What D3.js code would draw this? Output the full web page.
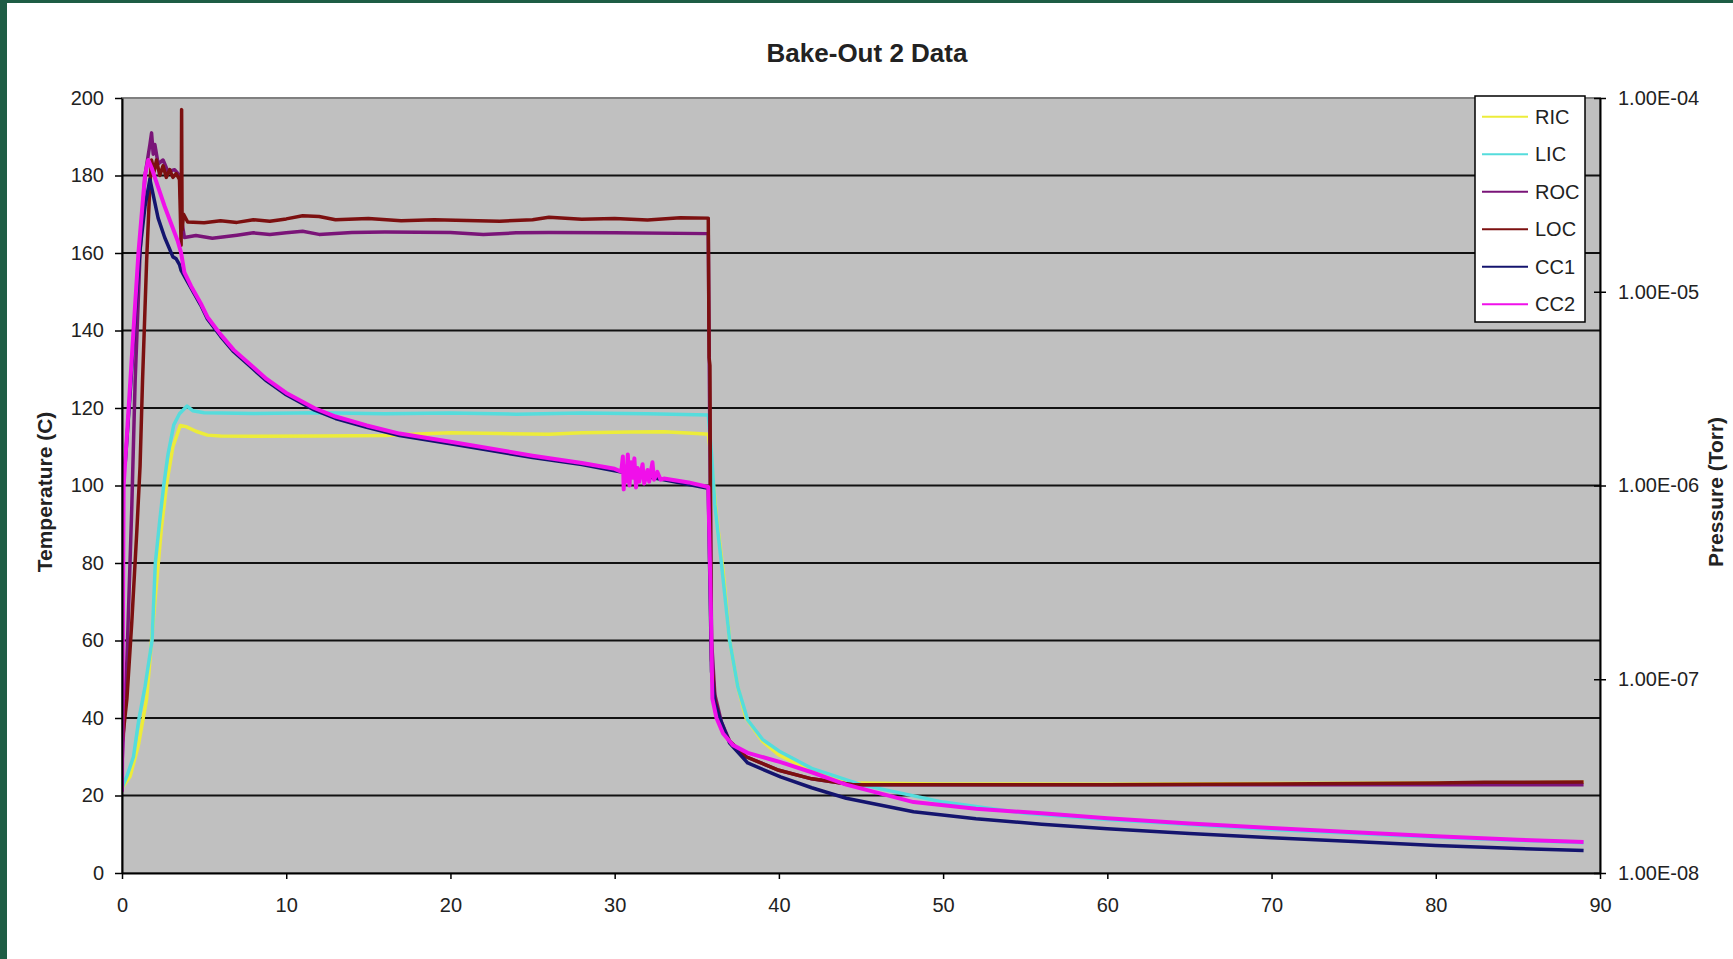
<!DOCTYPE html>
<html>
<head>
<meta charset="utf-8">
<script src="https://cdn.jsdelivr.net/npm/d3@7"></script>
<style>
  body { margin: 0; background: #fff; }
  svg text { font-family: "Liberation Sans", Arial, sans-serif; fill: #222; }
</style>
</head>
<body>
<div id="chart"></div>
<script>
const seriesNames = ["RIC", "LIC", "ROC", "LOC", "CC1", "CC2"];
const seriesColors = ["#ecec3a", "#55dcdc", "#7a1478", "#7c1010", "#14146e", "#f010ea"];
const xTicks = [0, 10, 20, 30, 40, 50, 60, 70, 80, 90];
const yTicks = [0, 20, 40, 60, 80, 100, 120, 140, 160, 180, 200];
const pressureTicks = [1e-4, 1e-5, 1e-6, 1e-7, 1e-8];
const pressureLabels = ["1.00E-04", "1.00E-05", "1.00E-06", "1.00E-07", "1.00E-08"];

// [time, temperature]
const ric = [[0,22],[0.5,25],[1.0,33],[1.5,45],[2.0,70],[2.4,89],[2.74,101],[3.1,110],[3.55,115.5],[3.9,115.2],[4.5,114],[5.2,113],[6,112.8],[8,112.7],[12,112.8],[16,112.9],[18,113.3],[20,113.6],[23,113.4],[26,113.2],[28,113.6],[31,113.8],[33,113.9],[35,113.4],[35.7,113.2],[35.85,108],[36.2,92],[36.6,78],[37,60],[37.5,48],[38,40],[39,34],[40,30.5],[42,26.3],[44.5,23.2],[50,23],[60,22.9],[70,23.1],[80,23.2],[89,23.4]];
const lic = [[0,22],[0.3,25],[0.7,30],[1.02,39.5],[1.4,48],[1.83,60],[2.03,80],[2.3,91],[2.54,100],[2.8,108],[3.15,115.6],[3.5,118.5],[3.96,120.5],[4.3,119.3],[5,118.8],[8,118.6],[12,118.8],[16,118.5],[20,118.7],[24,118.4],[28,118.7],[32,118.5],[35.7,118.2],[35.9,108],[36.1,95],[36.5,80],[37,60],[37.5,48],[38.1,39.5],[39,34.5],[40,31.5],[42,27],[45,22.8],[50,18.3],[55,15.4],[60,13.8],[70,11.2],[80,9.2],[89,7.8]];
const roc = [[0,28],[0.3,55],[0.6,95],[0.8,127],[1.1,160],[1.4,180],[1.7,188],[1.8,191],[1.9,185.5],[2.0,188],[2.2,183],[2.5,184],[2.8,181],[3.2,181.5],[3.5,180],[3.65,168],[3.8,164],[4.5,164.5],[5.5,163.8],[7,164.6],[8,165.2],[9,164.8],[10,165.2],[11,165.6],[12,164.8],[14,165.3],[16,165.4],[20,165.3],[22,164.8],[24,165.2],[26,165.3],[30,165.2],[35.7,165],[35.8,110],[35.9,60],[36.1,46],[36.5,39],[37,34],[38,30],[40,26.5],[42,24.3],[44.5,22.8],[89,22.8]];
const loc = [[0,33],[0.3,45],[0.6,65],[0.9,88],[1.1,105],[1.25,127],[1.5,158],[1.7,178],[1.8,184],[1.95,181],[2.1,184],[2.3,180],[2.5,182.5],[2.7,179.5],[2.9,181.5],[3.1,179.5],[3.3,180.5],[3.5,179],[3.6,162],[3.63,197],[3.66,166],[3.75,170],[4,168],[5,167.8],[6,168.3],[7,167.9],[8,168.6],[9,168.2],[10,168.8],[11,169.6],[12,169.4],[13,168.6],[15,168.9],[17,168.3],[19,168.6],[21,168.4],[23,168.2],[25,168.6],[26,169.2],[28,168.7],[30,168.9],[32,168.5],[34,169.1],[35.7,169],[35.75,133],[35.8,131],[35.85,80],[35.9,55],[36.1,45],[36.5,38],[37,34],[38,30],[40,26.5],[42,24.3],[44.5,22.8],[50,22.8],[60,22.8],[66,22.9],[70,23],[80,23.2],[83,23.4],[89,23.5]];
const cc1 = [[0,104],[0.2,106],[0.5,124],[0.8,144],[1.1,161],[1.4,172],[1.7,179],[1.9,175],[2.2,169],[2.6,164],[3.1,159],[3.3,158.5],[3.5,157],[3.6,155.5],[4,152.5],[4.8,146.5],[5.2,143],[6,138.5],[6.8,134.5],[8,130],[8.8,127],[10,123.4],[11.7,119.5],[13,117.3],[14.9,115],[16.9,112.9],[20,110.8],[25,107.2],[28,105.4],[30,103.8],[33,101.5],[35.7,99.3],[35.8,75],[35.9,52],[36.1,44],[36.4,40],[37,33.5],[38.1,28.4],[40.1,24.8],[42,22],[44.1,19.3],[48.2,15.8],[52,14],[56,12.6],[60,11.4],[65,10.2],[70,9.1],[75,8.1],[80,7.1],[85,6.3],[89,5.8]];
const cc2 = [[0,21],[0.05,60],[0.1,100],[0.3,113],[0.7,140],[1.0,160],[1.4,180],[1.6,184],[1.8,182],[2.2,177],[2.6,172],[3.0,167.5],[3.4,163],[3.6,160],[3.8,155],[4.2,151.5],[4.8,147],[5.2,143.5],[6,139],[6.8,135],[8,130.5],[8.8,127.5],[10,123.9],[11.7,120],[13,117.8],[14.9,115.5],[16.9,113.4],[20,111.3],[25,107.7],[28,105.8],[30,104.3],[30.4,103.6],[30.5,107.5],[30.55,99],[30.6,105],[30.7,101],[30.8,108],[30.9,100],[31.0,106],[31.1,102],[31.2,107],[31.3,99.5],[31.4,104.5],[31.5,101],[31.7,105.5],[31.8,100.5],[32.0,104],[32.1,101],[32.3,106],[32.4,101.5],[32.6,103.5],[32.8,101.5],[33,101.8],[34.5,100.8],[35.7,99.6],[35.85,70],[35.95,45],[36.2,40],[36.6,36],[37.2,33],[38.1,31],[40.1,28.6],[42,26],[44.1,22.8],[48.2,18.3],[52,16.6],[56,15.4],[60,14.1],[65,12.8],[70,11.6],[75,10.5],[80,9.5],[85,8.6],[89,8]];

const seriesData = [ric, lic, roc, loc, cc1, cc2];

function bakeOutChart() {
  const margin = { top: 98, right: 133, bottom: 86, left: 122 };
  const totalWidth = 1733, totalHeight = 959;
  const width = totalWidth - margin.left - margin.right;
  const height = totalHeight - margin.top - margin.bottom;

  const root = d3.select("#chart")
    .append("svg")
    .attr("width", totalWidth)
    .attr("height", totalHeight);

  root.append("rect").attr("width", totalWidth).attr("height", totalHeight).attr("fill", "#fff");
  // dark frame edges of the screenshot
  root.append("rect").attr("x", 0).attr("y", 0).attr("width", 7).attr("height", totalHeight).attr("fill", "#1e5d45");
  root.append("rect").attr("x", 0).attr("y", 0).attr("width", totalWidth).attr("height", 3).attr("fill", "#1e5d45");

  root.append("text")
    .attr("x", 867)
    .attr("y", 62)
    .attr("text-anchor", "middle")
    .style("font-size", "26px")
    .style("font-weight", "bold")
    .text("Bake-Out 2 Data");

  const svg = root.append("g")
    .attr("transform", `translate(${margin.left},${margin.top})`);

  const x = d3.scaleLinear().domain([0, 90]).range([0, width]);
  const y = d3.scaleLinear().domain([0, 200]).range([height, 0]);
  const yP = d3.scaleLog().domain([1e-8, 1e-4]).range([height, 0]);

  svg.append("rect")
    .attr("width", width)
    .attr("height", height)
    .attr("fill", "#c0c0c0")
    .attr("stroke", "#808080")
    .attr("stroke-width", 2);

  svg.append("g")
    .selectAll("line")
    .data(yTicks.filter(d => d > 0 && d < 200))
    .join("line")
    .attr("x1", 0)
    .attr("x2", width)
    .attr("y1", d => y(d))
    .attr("y2", d => y(d))
    .attr("stroke", "#111")
    .attr("stroke-width", 2);

  svg.append("defs").append("clipPath").attr("id", "plotClip")
    .append("rect").attr("width", width).attr("height", height);

  const line = d3.line()
    .x(d => x(d[0]))
    .y(d => y(d[1]));

  svg.append("g")
    .attr("clip-path", "url(#plotClip)")
    .selectAll("path")
    .data(seriesData)
    .join("path")
    .attr("d", line)
    .attr("fill", "none")
    .attr("stroke", (d, i) => seriesColors[i])
    .attr("stroke-width", (d, i) => i === 5 ? 4 : 3.5)
    .attr("stroke-linejoin", "round");

  const xAxis = svg.append("g")
    .attr("transform", `translate(0,${height})`)
    .call(d3.axisBottom(x).tickValues(xTicks).tickSize(6).tickPadding(19).tickSizeOuter(0));

  const yAxis = svg.append("g")
    .call(d3.axisLeft(y).tickValues(yTicks).tickSize(7).tickPadding(11).tickSizeOuter(0));

  const pAxis = svg.append("g")
    .attr("transform", `translate(${width},0)`)
    .call(d3.axisRight(yP).tickValues(pressureTicks).tickFormat((d, i) => pressureLabels[i]).tickSize(6).tickPadding(12).tickSizeOuter(0));
  pAxis.selectAll(".tick line").attr("x1", -6);

  [xAxis, yAxis, pAxis].forEach(g => {
    g.select(".domain").attr("stroke", "#000").attr("stroke-width", 2);
    g.selectAll(".tick line").attr("stroke", "#000").attr("stroke-width", 1.5);
    g.selectAll(".tick text").style("font-size", "20px").attr("fill", "#333");
  });

  root.append("text")
    .attr("transform", "translate(52,492) rotate(-90)")
    .attr("text-anchor", "middle")
    .style("font-size", "21px")
    .style("font-weight", "bold")
    .text("Temperature (C)");

  root.append("text")
    .attr("transform", "translate(1723,492) rotate(-90)")
    .attr("text-anchor", "middle")
    .style("font-size", "21px")
    .style("font-weight", "bold")
    .text("Pressure (Torr)");

  // legend
  const legend = root.append("g").attr("transform", "translate(1475,96)");
  legend.append("rect")
    .attr("width", 110)
    .attr("height", 226)
    .attr("fill", "#fff")
    .attr("stroke", "#000")
    .attr("stroke-width", 1.5);

  const rowH = 37.5;
  legend.selectAll("line")
    .data(seriesNames)
    .join("line")
    .attr("x1", 7)
    .attr("x2", 53)
    .attr("y1", (d, i) => 20.7 + i * rowH)
    .attr("y2", (d, i) => 20.7 + i * rowH)
    .attr("stroke", (d, i) => seriesColors[i])
    .attr("stroke-width", 2);

  legend.selectAll("text")
    .data(seriesNames)
    .join("text")
    .attr("x", 60)
    .attr("y", (d, i) => 20.7 + i * rowH)
    .attr("dy", "0.35em")
    .style("font-size", "20px")
    .attr("fill", "#333")
    .text(d => d);
}

bakeOutChart();
</script>
</body>
</html>
